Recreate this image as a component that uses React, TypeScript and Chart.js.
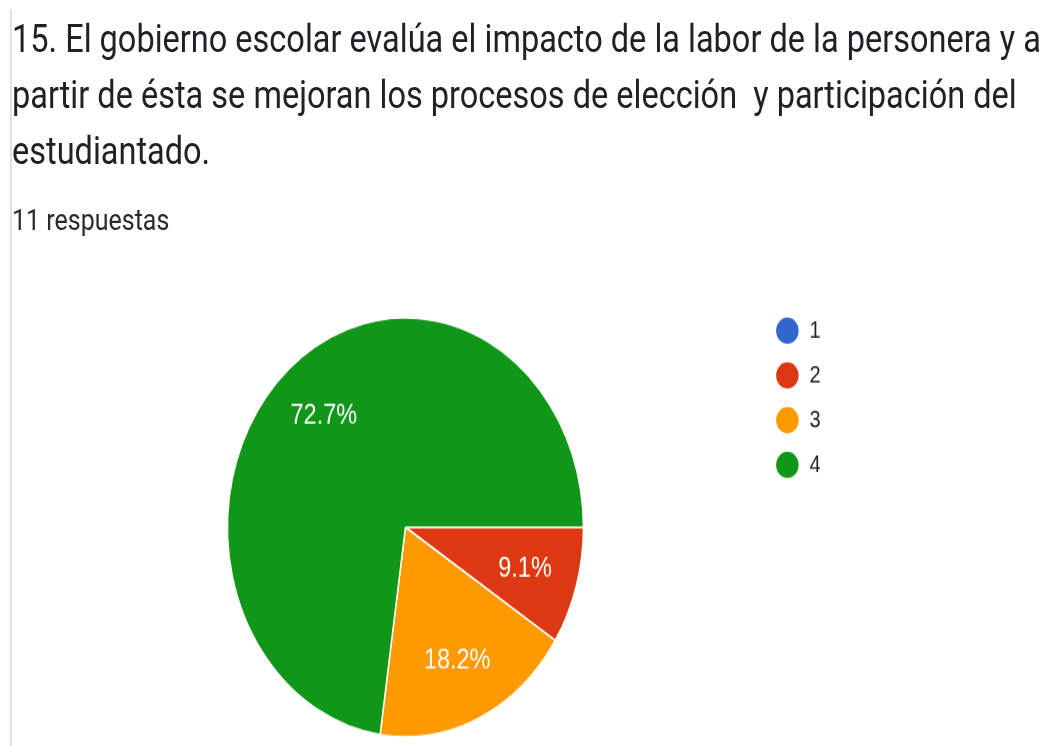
import React, { useEffect, useRef } from "react";
import { Chart, registerables } from "chart.js";

Chart.register(...registerables);

const titleLines = [
  "15. El gobierno escolar evalúa el impacto de la labor de la personera y a",
  "partir de ésta se mejoran los procesos de elección  y participación del",
  "estudiantado.",
];
const subtitleText = "11 respuestas";
const categories = ["1", "2", "3", "4"];
const counts = [0, 1, 2, 8];
const sliceColors = ["#3366cc", "#dc3912", "#ff9900", "#109618"];

const SCALE_Y = 1.177;

const pieLabels = {
  id: "pieLabels",
  afterDatasetsDraw(chart: any) {
    const meta = chart.getDatasetMeta(0);
    const data = chart.data.datasets[0].data as number[];
    const total = data.reduce((a, b) => a + b, 0);
    const ctx = chart.ctx;
    ctx.save();
    ctx.font = '23.5px "Liberation Sans", Arial, sans-serif';
    ctx.fillStyle = "#ffffff";
    ctx.textAlign = "center";
    ctx.textBaseline = "middle";
    meta.data.forEach((arc: any, i: number) => {
      const v = data[i];
      if (!v) return;
      const { x, y, startAngle, endAngle, outerRadius } = arc.getProps(
        ["x", "y", "startAngle", "endAngle", "outerRadius"],
        true
      );
      const mid = (startAngle + endAngle) / 2;
      const r = outerRadius * 0.7;
      const label = ((v / total) * 100).toFixed(1) + "%";
      ctx.fillText(label, x + Math.cos(mid) * r, y + Math.sin(mid) * r);
    });
    ctx.restore();
  },
};

export default function App() {
  const canvasRef = useRef<HTMLCanvasElement | null>(null);

  useEffect(() => {
    if (!canvasRef.current) return;
    const chart = new Chart(canvasRef.current, {
      type: "pie",
      data: {
        labels: categories,
        datasets: [
          {
            data: counts,
            backgroundColor: sliceColors,
            borderColor: "#ffffff",
            borderWidth: 1.5,
            radius: 178,
          } as any,
        ],
      },
      options: {
        responsive: false,
        animation: false,
        devicePixelRatio: 1,
        rotation: 90,
        events: [],
        layout: { padding: { left: 53.5, right: 221.5, top: 0, bottom: 0 } },
        plugins: {
          tooltip: { enabled: false },
          title: { display: false },
          legend: {
            display: true,
            position: "right",
            align: "start",
            labels: {
              usePointStyle: true,
              pointStyle: "circle",
              pointStyleWidth: 24,
              boxHeight: 16.8,
              padding: 18,
              color: "#222222",
              font: { family: '"Liberation Sans", Arial, sans-serif', size: 20 },
            },
          },
        },
      } as any,
      plugins: [pieLabels],
    });
    return () => chart.destroy();
  }, []);

  return (
    <div
      style={{
        position: "fixed",
        left: 0,
        top: 0,
        width: 1052,
        height: 746,
        overflow: "hidden",
        background: "#ffffff",
      }}
    >
      <div
        style={{
          position: "absolute",
          left: 0,
          top: 0,
          width: 1052,
          height: 746 / SCALE_Y,
          transform: `scaleY(${SCALE_Y})`,
          transformOrigin: "0 0",
        }}
      >
        <div
          style={{
            position: "absolute",
            left: 10,
            top: 8,
            width: 2,
            height: 640,
            background: "#e3e3e3",
          }}
        />
        <div
          style={{
            position: "absolute",
            left: 12,
            top: 10,
            fontFamily: "Roboto, sans-serif",
            fontSize: 32.5,
            lineHeight: "47.5px",
            color: "#202124",
            whiteSpace: "pre",
          }}
        >
          {titleLines.map((l, i) => (
            <div key={i}>{l}</div>
          ))}
        </div>
        <div
          style={{
            position: "absolute",
            left: 12,
            top: 174,
            fontFamily: "Roboto, sans-serif",
            fontSize: 25,
            lineHeight: "25px",
            color: "#2a2a2a",
            whiteSpace: "pre",
          }}
        >
          {subtitleText}
        </div>
        <canvas
          ref={canvasRef}
          width={1052}
          height={390}
          style={{ position: "absolute", left: 0, top: 252.5, width: 1052, height: 390 }}
        />
      </div>
    </div>
  );
}
